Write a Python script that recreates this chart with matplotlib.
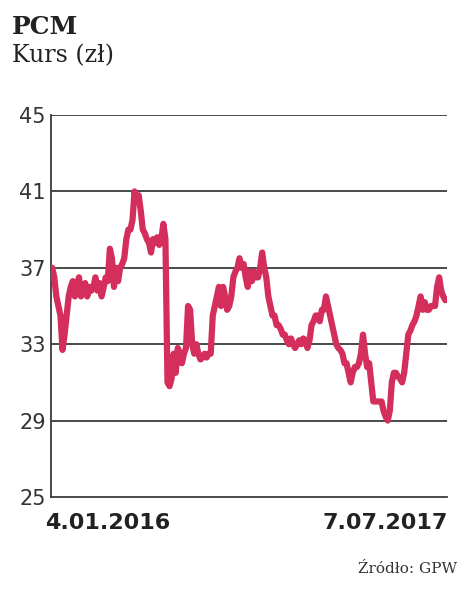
import matplotlib
matplotlib.use("Agg")
import matplotlib.pyplot as plt

# kurs PCM (kolejne notowania)
kurs = [37, 36.5, 35.5, 35, 34.5, 32.7, 33.5, 34.5, 35.5, 36, 36.3, 35.5, 36, 36.5,
        35.5, 35.8, 36.2, 35.5, 36, 35.8, 36, 36.5, 35.8, 36.2, 35.5, 36, 36.5, 36.3,
        38, 37.5, 36, 37, 36.3, 37, 37.2, 37.5, 38.5, 39, 39, 39.5, 41, 40.5, 40.8, 40,
        39, 38.8, 38.5, 38.3, 37.8, 38.5, 38.3, 38.6, 38.2, 38.5, 39.3, 38.5, 31, 30.8,
        31.2, 32.5, 31.5, 32.8, 32.5, 32, 32.5, 32.8, 35, 34.8, 33, 32.5, 33, 32.5, 32.2,
        32.3, 32.5, 32.3, 32.5, 32.5, 34.5, 35, 35.5, 36, 35, 36, 35.5, 34.8, 35, 35.5,
        36.5, 36.8, 37, 37.5, 37, 37.2, 36.5, 36, 36.8, 36.3, 36.8, 36.5, 36.5, 37, 37.8,
        37, 36.5, 35.5, 35, 34.5, 34.5, 34, 34, 33.8, 33.5, 33.5, 33.2, 33, 33.3, 33,
        32.8, 33, 33.2, 33, 33.3, 33.2, 32.8, 33.2, 34, 34.2, 34.5, 34.5, 34.2, 34.8,
        34.8, 35.5, 35, 34.5, 34, 33.5, 33, 32.8, 32.7, 32.5, 32, 32, 31.5, 31, 31.5,
        31.8, 31.8, 32, 32.5, 33.5, 32.5, 31.8, 32, 31, 30, 30, 30, 30, 30, 29.5, 29.2,
        29, 29.5, 31, 31.5, 31.5, 31.3, 31.2, 31, 31.5, 32.5, 33.5, 33.7, 34, 34.2, 34.5,
        35, 35.5, 34.8, 35.2, 34.8, 34.8, 35, 35, 35, 36, 36.5, 35.8, 35.5, 35.3]
y_ticks = [25, 29, 33, 37, 41, 45]

fig = plt.figure(figsize=(4.74, 5.93), dpi=100)
ax = fig.add_axes([0.108, 0.162, 0.835, 0.644])

for t in y_ticks[1:]:
    ax.axhline(t, color="#3a3a3a", lw=1.3, zorder=1)
ax.plot(range(len(kurs)), kurs, color="#d42f5c", lw=4.5,
        solid_joinstyle="round", solid_capstyle="round", zorder=3)

ax.set_ylim(25, 45)
ax.set_xlim(-0.5, len(kurs) - 0.2)
ax.set_yticks(y_ticks)
ax.set_yticklabels([str(t) for t in y_ticks], fontsize=15, color="#333333",
                   family="Liberation Sans Narrow")
ax.tick_params(axis="y", length=0, pad=4)
ax.set_xticks([])
for s in ["top", "right"]:
    ax.spines[s].set_visible(False)
ax.spines["left"].set_color("#3a3a3a")
ax.spines["bottom"].set_color("#3a3a3a")
ax.spines["left"].set_linewidth(1.3)
ax.spines["bottom"].set_linewidth(1.3)

fig.text(0.095, 0.135, "4.01.2016", fontsize=16, fontweight="bold", color="#222222",
         ha="left", va="top")
fig.text(0.945, 0.135, "7.07.2017", fontsize=16, fontweight="bold", color="#222222",
         ha="right", va="top")

fig.text(0.025, 0.975, "PCM", fontsize=18, fontweight="bold", family="DejaVu Serif",
         color="#222222", ha="left", va="top")
fig.text(0.025, 0.925, "Kurs (zł)", fontsize=17, family="DejaVu Serif",
         color="#222222", ha="left", va="top")
fig.text(0.965, 0.04, "Źródło: GPW", fontsize=11, family="DejaVu Serif",
         color="#333333", ha="right", va="center")

fig.savefig("out.png", dpi=100, facecolor="white")
